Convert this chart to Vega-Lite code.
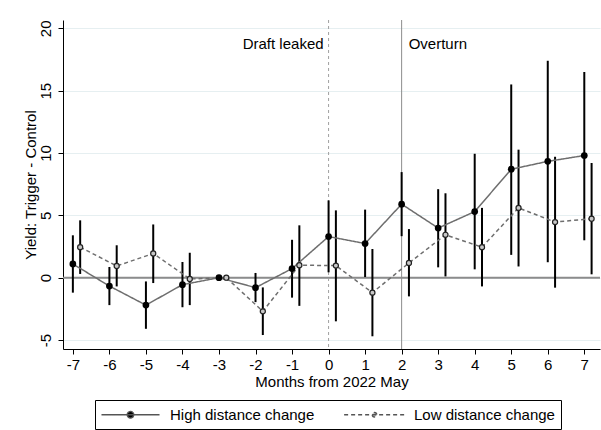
{
  "$schema": "https://vega.github.io/schema/vega-lite/v6.json",
  "width": 537,
  "height": 329,
  "autosize": "none",
  "padding": {"left": 63, "top": 20, "right": 1, "bottom": 81},
  "background": "white",
  "config": {
    "view": {"stroke": null},
    "font": "Liberation Sans",
    "axisX": {"labelFontSize": 15, "titleFontSize": 15, "titleFontWeight": "normal", "domainColor": "black", "tickColor": "black", "labelColor": "black", "titleColor": "black", "tickSize": 5, "grid": false, "labelPadding": 3, "titlePadding": 2, "labelFlush": false, "labelOverlap": false},
    "axisY": {"labelFontSize": 15, "titleFontSize": 15, "titleFontWeight": "normal", "domainColor": "black", "tickColor": "black", "labelColor": "black", "titleColor": "black", "tickSize": 5, "labelAngle": -90, "labelAlign": "center", "labelBaseline": "bottom", "labelPadding": 5, "titlePadding": 0, "grid": true, "gridColor": "#e6eff1", "gridWidth": 1, "labelOverlap": false}
  },
  "datasets": {
    "est": [
      {"group": "High distance change", "x": -7, "est": 1.1, "lo": -1.2, "hi": 3.4},
      {"group": "High distance change", "x": -6, "est": -0.67, "lo": -2.2, "hi": 0.86},
      {"group": "High distance change", "x": -5, "est": -2.2, "lo": -4.1, "hi": -0.3},
      {"group": "High distance change", "x": -4, "est": -0.56, "lo": -2.37, "hi": 1.26},
      {"group": "High distance change", "x": -3, "est": 0, "lo": 0, "hi": 0},
      {"group": "High distance change", "x": -2, "est": -0.8, "lo": -1.96, "hi": 0.38},
      {"group": "High distance change", "x": -1, "est": 0.73, "lo": -1.6, "hi": 3.04},
      {"group": "High distance change", "x": 0, "est": 3.3, "lo": 0.43, "hi": 6.2},
      {"group": "High distance change", "x": 1, "est": 2.74, "lo": 0.05, "hi": 5.46},
      {"group": "High distance change", "x": 2, "est": 5.9, "lo": 3.33, "hi": 8.47},
      {"group": "High distance change", "x": 3, "est": 3.98, "lo": 0.83, "hi": 7.1},
      {"group": "High distance change", "x": 4, "est": 5.3, "lo": 0.67, "hi": 9.94},
      {"group": "High distance change", "x": 5, "est": 8.7, "lo": 1.83, "hi": 15.5},
      {"group": "High distance change", "x": 6, "est": 9.33, "lo": 1.24, "hi": 17.4},
      {"group": "High distance change", "x": 7, "est": 9.8, "lo": 3.0, "hi": 16.5},
      {"group": "Low distance change", "x": -6.8, "est": 2.45, "lo": 0.3, "hi": 4.6},
      {"group": "Low distance change", "x": -5.8, "est": 0.94, "lo": -0.7, "hi": 2.6},
      {"group": "Low distance change", "x": -4.8, "est": 1.94, "lo": -0.43, "hi": 4.27},
      {"group": "Low distance change", "x": -3.8, "est": -0.1, "lo": -2.2, "hi": 2.0},
      {"group": "Low distance change", "x": -2.8, "est": 0, "lo": 0, "hi": 0},
      {"group": "Low distance change", "x": -1.8, "est": -2.7, "lo": -4.6, "hi": -0.78},
      {"group": "Low distance change", "x": -0.8, "est": 1.0, "lo": -2.26, "hi": 4.2},
      {"group": "Low distance change", "x": 0.2, "est": 0.97, "lo": -3.5, "hi": 5.4},
      {"group": "Low distance change", "x": 1.2, "est": -1.2, "lo": -4.7, "hi": 2.3},
      {"group": "Low distance change", "x": 2.2, "est": 1.18, "lo": -1.5, "hi": 3.9},
      {"group": "Low distance change", "x": 3.2, "est": 3.44, "lo": 0.1, "hi": 6.77},
      {"group": "Low distance change", "x": 4.2, "est": 2.45, "lo": -0.7, "hi": 5.6},
      {"group": "Low distance change", "x": 5.2, "est": 5.6, "lo": 0.9, "hi": 10.27},
      {"group": "Low distance change", "x": 6.2, "est": 4.46, "lo": -0.8, "hi": 9.7},
      {"group": "Low distance change", "x": 7.2, "est": 4.73, "lo": 0.27, "hi": 9.2}
    ]
  },
  "layer": [
    {
      "data": {"values": [{"zero": 0}]},
      "mark": {"type": "rule", "color": "#8c8c8c", "strokeWidth": 2},
      "encoding": {
        "y": {"field": "zero", "type": "quantitative", "scale": {"domain": [-5.72, 20.67], "nice": false, "zero": false}, "title": "Yield: Trigger - Control",
              "axis": {"values": [-5, 0, 5, 10, 15, 20], "labelExpr": "replace(datum.label, '\u2212', '-')"}}
      }
    },
    {
      "data": {"values": [{"month": 0, "label": "Draft leaked"}]},
      "layer": [
        {"mark": {"type": "rule", "color": "#a0a0a0", "strokeWidth": 1, "strokeDash": [3, 3]},
         "encoding": {"x": {"field": "month", "type": "quantitative", "scale": {"domain": [-7.27, 7.43], "nice": false, "zero": false}, "title": "Months from 2022 May",
                  "axis": {"values": [-7, -6, -5, -4, -3, -2, -1, 0, 1, 2, 3, 4, 5, 6, 7], "tickCount": 15, "labelExpr": "replace(datum.label, '\u2212', '-')"}}}},
        {"mark": {"type": "text", "align": "right", "baseline": "middle", "dx": -5, "fontSize": 15, "color": "black"},
         "encoding": {"x": {"field": "month", "type": "quantitative"}, "y": {"datum": 18.74, "type": "quantitative"}, "text": {"field": "label"}}}
      ]
    },
    {
      "data": {"values": [{"month": 2, "label": "Overturn"}]},
      "layer": [
        {"mark": {"type": "rule", "color": "#8c8c8c", "strokeWidth": 1},
         "encoding": {"x": {"field": "month", "type": "quantitative"}}},
        {"mark": {"type": "text", "align": "left", "baseline": "middle", "dx": 7, "fontSize": 15, "color": "black"},
         "encoding": {"x": {"field": "month", "type": "quantitative"}, "y": {"datum": 18.74, "type": "quantitative"}, "text": {"field": "label"}}}
      ]
    },
    {
      "data": {"name": "est"},
      "layer": [
        {
          "mark": {"type": "rule", "color": "black", "strokeWidth": 2},
          "encoding": {
            "x": {"field": "x", "type": "quantitative"},
            "y": {"field": "lo", "type": "quantitative"},
            "y2": {"field": "hi"}
          }
        },
        {
          "mark": {"type": "line", "color": "#6e6e6e", "strokeWidth": 1.5},
          "encoding": {
            "x": {"field": "x", "type": "quantitative"},
            "y": {"field": "est", "type": "quantitative"},
            "strokeDash": {
              "field": "group", "type": "nominal",
              "scale": {"domain": ["High distance change", "Low distance change"], "range": [[1, 0], [4, 3]]},
              "legend": {
                "title": null, "orient": "none", "legendX": 32, "legendY": 380, "direction": "horizontal",
                "strokeColor": "black", "padding": 6, "labelFontSize": 15, "labelColor": "black",
                "symbolSize": 225, "symbolStrokeWidth": 1.3, "symbolStrokeColor": "#555555",
                "symbolOffset": 21, "labelOffset": 31, "columnPadding": 26,
                "encode": {
                  "symbols": {
                    "update": {
                      "shape": {"signal": "datum.value == 'High distance change' ? 'M-3.87,0L3.87,0M-0.44,0A0.44,0.44 0 1,0 0.44,0A0.44,0.44 0 1,0 -0.44,0Z' : 'M-4.05,0L4.05,0M-0.3,0A0.3,0.3 0 1,0 0.3,0A0.3,0.3 0 1,0 -0.3,0Z'"},
                      "fill": {"signal": "datum.value == 'High distance change' ? 'black' : '#cccccc'"},
                      "fillOpacity": {"value": 1},
                      "stroke": {"value": "#555555"}
                    }
                  }
                }
              }
            }
          }
        },
        {
          "transform": [{"filter": "datum.group == 'High distance change'"}],
          "mark": {"type": "point", "filled": true, "color": "black", "size": 45, "opacity": 1},
          "encoding": {
            "x": {"field": "x", "type": "quantitative"},
            "y": {"field": "est", "type": "quantitative"}
          }
        },
        {
          "transform": [{"filter": "datum.group == 'Low distance change'"}],
          "mark": {"type": "point", "filled": true, "fill": "#c8c8c8", "stroke": "#222222", "strokeWidth": 1.2, "size": 26, "opacity": 1},
          "encoding": {
            "x": {"field": "x", "type": "quantitative"},
            "y": {"field": "est", "type": "quantitative"}
          }
        }
      ]
    }
  ]
}
